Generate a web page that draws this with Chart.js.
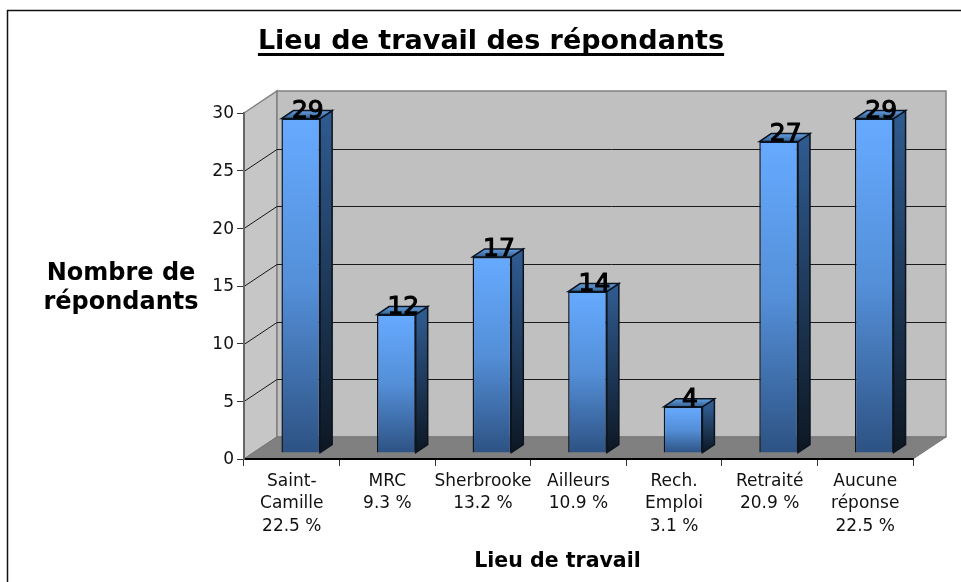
<!DOCTYPE html>
<html>
<head>
<meta charset="utf-8">
<title>Lieu de travail des répondants</title>
<script src="https://cdn.jsdelivr.net/npm/chart.js@4/dist/chart.umd.min.js"></script>
<style>
  html, body { margin: 0; padding: 0; background: #fff; }
  #wrap { width: 961px; height: 582px; }
</style>
</head>
<body>
<div id="wrap"><canvas id="chart" width="961" height="582"></canvas></div>
<script>
const categories = [
  ['Saint-', 'Camille', '22.5 %'],
  ['MRC', '9.3 %'],
  ['Sherbrooke', '13.2 %'],
  ['Ailleurs', '10.9 %'],
  ['Rech.', 'Emploi', '3.1 %'],
  ['Retraité', '20.9 %'],
  ['Aucune', 'réponse', '22.5 %']
];
const respondents = [29, 12, 17, 14, 4, 27, 29];
const titleText = 'Lieu de travail des répondants';
const xTitle = 'Lieu de travail';
const yTitle = ['Nombre de', 'répondants'];

const FONT = '"DejaVu Sans", Verdana, sans-serif';
// oblique offsets of the fake 3D: whole wall depth, bar position, bar depth
const WALL = { dx: 33, dy: -22 };
const BAR_SHIFT = { dx: 9, dy: -6 };
const BAR_DEPTH = { dx: 12, dy: -8 };

function poly(ctx, pts, fill, stroke, lw) {
  ctx.beginPath();
  pts.forEach((p, i) => i ? ctx.lineTo(p[0], p[1]) : ctx.moveTo(p[0], p[1]));
  ctx.closePath();
  if (fill) { ctx.fillStyle = fill; ctx.fill(); }
  if (stroke) { ctx.strokeStyle = stroke; ctx.lineWidth = lw || 1; ctx.stroke(); }
}

function vGrad(ctx, top, bottom, c1, c2) {
  const g = ctx.createLinearGradient(0, top, 0, bottom);
  g.addColorStop(0, c1);
  g.addColorStop(1, c2);
  return g;
}

const walls3d = {
  id: 'walls3d',
  // has to go before the axes layer, or the walls paint over the axis lines
  beforeDraw(chart) {
    const { ctx, chartArea: a, scales: { y } } = chart;
    const dx = WALL.dx, dy = WALL.dy;
    ctx.save();
    poly(ctx, [[a.left, a.top], [a.left + dx, a.top + dy], [a.left + dx, a.bottom + dy], [a.left, a.bottom]], '#c6c6c6', '#808080', 1.5);
    poly(ctx, [[a.left + dx, a.top + dy], [a.right + dx, a.top + dy], [a.right + dx, a.bottom + dy], [a.left + dx, a.bottom + dy]], '#c0c0c0', '#808080', 1.5);
    poly(ctx, [[a.left, a.bottom], [a.left + dx, a.bottom + dy], [a.right + dx, a.bottom + dy], [a.right, a.bottom]], '#808080', '#777777');
    // gridlines run up the side wall then along the back wall
    y.ticks.forEach(t => {
      if (t.value === 0 || t.value === 30) return;
      const py = Math.round(y.getPixelForValue(t.value)) + 0.5;
      ctx.beginPath();
      ctx.moveTo(a.left, py);
      ctx.lineTo(a.left + dx, py + dy);
      ctx.lineTo(a.right + dx, py + dy);
      ctx.strokeStyle = '#1a1a1a';
      ctx.lineWidth = 1;
      ctx.stroke();
    });
    ctx.restore();
  },
  beforeDatasetDraw(chart) {
    chart.ctx.save();
    chart.ctx.translate(BAR_SHIFT.dx, BAR_SHIFT.dy);
  },
  afterDatasetDraw(chart) {
    const { ctx } = chart;
    const dx = BAR_DEPTH.dx, dy = BAR_DEPTH.dy;
    chart.getDatasetMeta(0).data.forEach(bar => {
      const r = bar.x + bar.width / 2, l = bar.x - bar.width / 2;
      poly(ctx, [[r, bar.y], [r + dx, bar.y + dy], [r + dx, bar.base + dy], [r, bar.base]],
        vGrad(ctx, bar.y, bar.base, '#2f5a8e', '#0d1722'), '#0b1420', 1.5);
      poly(ctx, [[l, bar.y], [l + dx, bar.y + dy], [r + dx, bar.y + dy], [r, bar.y]],
        vGrad(ctx, bar.y, bar.y + dy, '#35608f', '#639fe2'), '#0b1420', 1.5);
    });
    ctx.restore();
    // value labels sit over the top face of each bar
    ctx.save();
    ctx.font = '25px ' + FONT;
    ctx.fillStyle = '#000';
    ctx.strokeStyle = '#000';
    ctx.lineWidth = 1.1;
    ctx.textAlign = 'center';
    ctx.textBaseline = 'middle';
    chart.getDatasetMeta(0).data.forEach((bar, i) => {
      const lx = bar.x + BAR_SHIFT.dx + BAR_DEPTH.dx / 2 + 1;
      const ly = bar.y + BAR_SHIFT.dy - 7;
      ctx.fillText(respondents[i], lx, ly);
      ctx.strokeText(respondents[i], lx, ly);
    });
    ctx.restore();
  },
  afterDraw(chart) {
    const { ctx, width, height, titleBlock: tb } = chart;
    ctx.save();
    // frame of the original picture: only top and left edges are in view
    ctx.strokeStyle = '#111';
    ctx.lineWidth = 1.5;
    ctx.beginPath();
    ctx.moveTo(7.5, height);
    ctx.lineTo(7.5, 10.5);
    ctx.lineTo(width, 10.5);
    ctx.stroke();
    // title underline
    ctx.font = 'bold 27px ' + FONT;
    const w = ctx.measureText(titleText).width;
    const cx = tb.left + tb.width / 2;
    ctx.fillStyle = '#000';
    ctx.fillRect(cx - w / 2, 53, w, 3);
    ctx.textAlign = 'center';
    ctx.textBaseline = 'middle';
    // axis titles do not sit centred on the axes, so they are placed by hand
    ctx.font = 'bold 24px ' + FONT;
    yTitle.forEach((line, i) => ctx.fillText(line, 121, 274 + i * 29));
    ctx.font = 'bold 20.5px ' + FONT;
    ctx.fillText(xTitle, 557.5, 562);
    ctx.restore();
  }
};

new Chart(document.getElementById('chart'), {
  type: 'bar',
  data: {
    labels: categories,
    datasets: [{
      label: 'Nombre de répondants',
      data: respondents,
      clip: false,
      barPercentage: 0.405,
      categoryPercentage: 1,
      borderColor: '#0b1420',
      borderWidth: 1.5,
      backgroundColor(c) {
        const { chart, parsed } = c;
        if (!chart.chartArea || !parsed) return '#5a96dc';
        const y = chart.scales.y;
        const g = chart.ctx.createLinearGradient(0, y.getPixelForValue(parsed.y), 0, y.getPixelForValue(0));
        g.addColorStop(0, '#66aaff');
        g.addColorStop(0.5, '#548fd8');
        g.addColorStop(1, '#2d5283');
        return g;
      }
    }]
  },
  plugins: [walls3d],
  options: {
    responsive: false,
    animation: false,
    layout: { padding: { left: 69, right: 48, top: 0, bottom: 0 } },
    plugins: {
      legend: { display: false },
      tooltip: { enabled: false },
      title: {
        display: true,
        text: titleText,
        color: '#000',
        font: { family: FONT, size: 27, weight: 'bold', lineHeight: 1.2 },
        padding: { top: 26, bottom: 54.6 }
      }
    },
    scales: {
      x: {
        afterFit(s) { s.height = 123; },
        offset: true,
        grid: { drawOnChartArea: false, tickLength: 7, color: '#333', offset: true },
        border: { color: '#000', width: 2 },
        ticks: {
          color: '#111',
          autoSkip: false,
          maxRotation: 0,
          minRotation: 0,
          padding: 4,
          font: { family: FONT, size: 17, lineHeight: 1.32 }
        }
      },
      y: {
        afterFit(s) { s.width = 175; },
        min: 0,
        max: 30,
        grid: { drawOnChartArea: false, tickLength: 7, color: '#333' },
        border: { color: '#666', width: 2 },
        ticks: {
          stepSize: 5,
          color: '#111',
          padding: 3,
          labelOffset: 1,
          font: { family: FONT, size: 17 }
        }
      }
    }
  }
});
</script>
</body>
</html>
